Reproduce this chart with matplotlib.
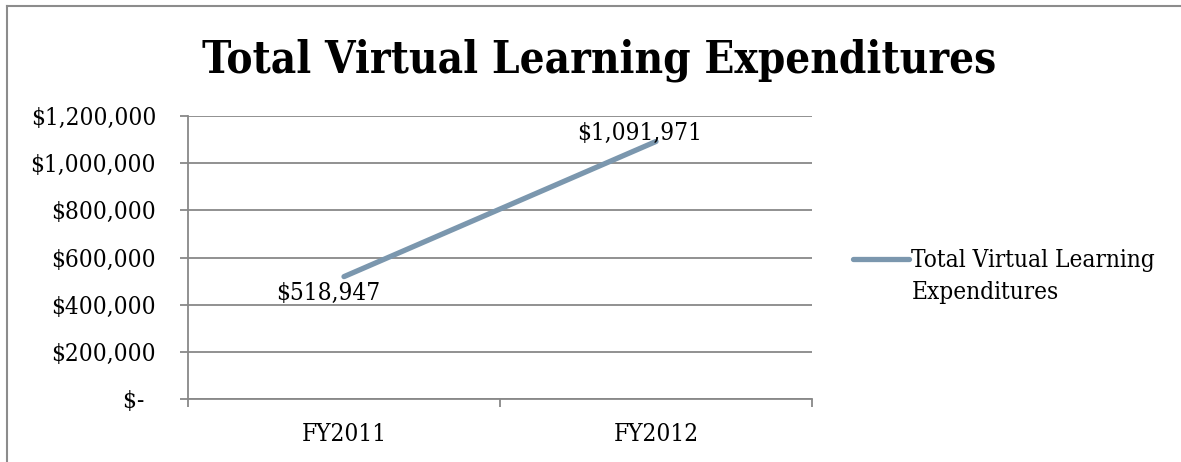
import matplotlib
matplotlib.use('Agg')
import matplotlib.pyplot as plt
from matplotlib.lines import Line2D

# data
years = ['FY2011', 'FY2012']
expenditures = [518947, 1091971]
yticks = [0, 200000, 400000, 600000, 800000, 1000000, 1200000]
ytick_labels = ['$- \u2009', '$200,000', '$400,000', '$600,000', '$800,000', '$1,000,000', '$1,200,000']
series_name = 'Total Virtual Learning Expenditures'

line_color = '#7B97AE'
grid_color = '#888888'
fs = 17.5
plt.rcParams['font.family'] = 'DejaVu Serif'
plt.rcParams['font.stretch'] = 'condensed'

fig = plt.figure(figsize=(11.81, 4.62), dpi=100)
ax = fig.add_axes([188/1181, 1-399/462, 624/1181, 283/462])

x = list(range(len(years)))
ax.plot(x, expenditures, color=line_color, linewidth=3.8, solid_capstyle='round')

# data labels
offsets = [(-11, -12), (-12, 6)]
for xi, v, off in zip(x, expenditures, offsets):
    ax.annotate('${:,}'.format(v), (xi, v), xytext=off, textcoords='offset points',
                ha='center', va='center', fontsize=fs)

ax.set_xlim(-0.5, 1.5)
ax.set_ylim(0, 1200000)
ax.set_yticks(yticks)
ax.set_yticklabels(ytick_labels, fontsize=fs)
ax.set_xticks(x)
ax.set_xticklabels(years, fontsize=fs)
ax.set_xticks([-0.5, 0.5, 1.5], minor=True)
ax.tick_params(axis='x', which='major', length=0, pad=17)
ax.tick_params(axis='x', which='minor', length=6, width=1.3, color=grid_color, direction='out')
ax.tick_params(axis='y', length=6, width=1.3, color=grid_color, pad=17)

ax.grid(axis='y', color=grid_color, linewidth=1.3)
ax.set_axisbelow(True)
for s in ['top', 'right']:
    ax.spines[s].set_visible(False)
for s in ['left', 'bottom']:
    ax.spines[s].set_color(grid_color)
    ax.spines[s].set_linewidth(1.3)

fig.text(599/1181, 1-60/462, series_name, ha='center', va='center',
         fontsize=31.5, fontweight='bold')

# legend
handle = Line2D([], [], color=line_color, linewidth=3.8, solid_capstyle='round')
fig.legend([handle], ['Total Virtual Learning'], loc='center left',
           bbox_to_anchor=(853/1181, 1-261/462), frameon=False, fontsize=fs,
           handlelength=2.3, handletextpad=0.1, borderpad=0, borderaxespad=0)
fig.text(912/1181, 1-292/462, 'Expenditures', ha='left', va='center', fontsize=fs)

# chart border
fig.add_artist(Line2D([7/1181, 7/1181], [0, 1-6/462], color='#8c8c8c', linewidth=1.5))
fig.add_artist(Line2D([7/1181, 1], [1-6/462, 1-6/462], color='#8c8c8c', linewidth=1.5))

fig.savefig('out.png', dpi=100)
